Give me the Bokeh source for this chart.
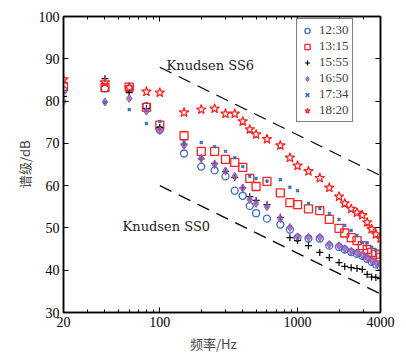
from bokeh.plotting import figure
from bokeh.models import (FixedTicker, LinearAxis, LogAxis, Range1d, Label, Legend, LegendItem,
                          NumeralTickFormatter)
from bokeh.embed import file_html
from bokeh.resources import INLINE

freqs = [20, 40, 60, 80, 100, 150, 200, 250, 300, 350, 400, 450, 500, 600, 750, 880,
         1000, 1200, 1450, 1700, 2000, 2200, 2450, 2700, 2950, 3200, 3450, 3700, 4000]
s1230 = [82.6, 83.0, 83.0, 78.8, 73.2, 67.6, 64.5, 63.6, 62.2, 58.8, 57.6, 55.2, 53.5, 52.2, 50.8,
         49.6, 47.7, 47.5, 47.5, 45.8, 45.5, 44.9, 44.3, 43.9, 43.4, 42.7, 42.0, 41.4, 40.9]
s1315 = [83.4, 83.2, 83.3, 78.5, 74.3, 71.8, 68.1, 68.1, 66.2, 65.5, 64.3, 61.7, 59.8, 61.0, 58.3,
         56.0, 55.5, 54.5, 54.1, 52.0, 49.9, 48.8, 47.7, 47.0, 45.8, 44.9, 44.2, 43.8, 43.1]
s1555 = [81.1, 85.3, 82.0, 78.2, 73.8, 69.8, 66.3, 65.3, 63.3, 61.9, 59.5, 57.4, 56.5, 55.5, 52.5,
         47.7, 47.0, 45.8, 44.2, 43.0, 41.8, 40.9, 40.6, 40.4, 40.2, 39.0, 38.4, 38.3, 38.0]
s1650 = [79.9, 79.8, 80.6, 77.6, 73.0, 69.5, 66.5, 65.0, 63.5, 62.2, 59.4, 56.7, 55.8, 55.0, 52.2,
         50.1, 47.9, 47.8, 47.8, 46.1, 45.8, 45.1, 44.5, 44.1, 43.6, 42.9, 42.3, 41.8, 41.2]
s1734 = [82.2, 79.6, 78.0, 74.7, 75.2, 70.4, 70.2, 69.2, 68.1, 66.6, 64.5, 62.2, 61.7, 61.1, 61.4,
         59.6, 58.8, 55.8, 54.6, 53.4, 52.0, 50.6, 49.4, 48.2, 46.5, 46.5, 45.4, 44.7, 44.2]
s1820 = [85.1, 84.4, 83.2, 82.2, 82.0, 77.3, 78.0, 78.2, 77.0, 77.0, 75.2, 73.3, 72.1, 71.0, 69.5,
         66.6, 64.7, 63.4, 61.8, 59.5, 57.4, 55.8, 54.5, 53.6, 53.0, 51.3, 49.7, 48.5, 47.5]
labels = ["12:30", "13:15", "15:55", "16:50", "17:34", "18:20"]

ss6_freq = [100, 4000]
ss6_level = [88.0, 62.4]
ss0_freq = [100, 4000]
ss0_level = [60.0, 34.4]

x_major = [20, 100, 1000, 4000]
x_minor = [30, 40, 50, 60, 70, 80, 90, 200, 300, 400, 500, 600, 700, 800, 900, 2000, 3000]
y_major = [30, 40, 50, 60, 70, 80, 90, 100]

SERIF = "Liberation Serif"
CJK = "Noto Sans CJK SC"

p = figure(width=406, height=357, x_axis_type="log", output_backend="svg",
           toolbar_location=None, x_range=Range1d(20, 4000), y_range=Range1d(30, 100),
           frame_width=317, frame_height=296,
           min_border_left=63, min_border_right=26, min_border_top=16, min_border_bottom=45)
p.grid.visible = False
p.outline_line_color = "black"
p.outline_line_width = 1.5
p.background_fill_color = "white"

def style_axis(ax, show_labels):
    ax.axis_line_color = "black"
    ax.axis_line_width = 1.5
    ax.major_tick_in = 5
    ax.major_tick_out = 0
    ax.minor_tick_in = 3
    ax.minor_tick_out = 0
    ax.major_tick_line_color = "black"
    ax.minor_tick_line_color = "black"
    ax.major_label_text_font = SERIF
    ax.major_label_text_font_size = "14px"
    ax.major_label_text_color = "black"
    ax.major_label_standoff = 4
    if not show_labels:
        ax.major_label_text_font_size = "1px"
        ax.major_label_text_color = None
        ax.major_label_standoff = 0

xb = p.xaxis[0]
xb.ticker = FixedTicker(ticks=x_major, minor_ticks=x_minor)
xb.formatter = NumeralTickFormatter(format="0")
style_axis(xb, True)
xb.axis_label = "频率/Hz      "
xb.axis_label_text_font = CJK
xb.axis_label_text_font_size = "13px"
xb.axis_label_text_font_style = "normal"
xb.axis_label_standoff = 4

yl = p.yaxis[0]
yl.ticker = FixedTicker(ticks=y_major, minor_ticks=[])
style_axis(yl, True)
yl.axis_label = "谱级/dB"
yl.axis_label_text_font = CJK
yl.axis_label_text_font_size = "13px"
yl.axis_label_text_font_style = "normal"
yl.axis_label_standoff = 2

xt = LogAxis(ticker=FixedTicker(ticks=x_major, minor_ticks=x_minor))
style_axis(xt, False)
p.add_layout(xt, "above")
yr = LinearAxis(ticker=FixedTicker(ticks=y_major, minor_ticks=[]))
style_axis(yr, False)
p.add_layout(yr, "right")

# Knudsen reference lines
p.line(ss6_freq, ss6_level, line_color="black", line_width=1.2, line_dash="13 8")
p.line(ss0_freq, ss0_level, line_color="black", line_width=1.2, line_dash="13 8")
p.add_layout(Label(x=112, y=88.4, text="Knudsen SS6", text_font="DejaVu Serif",
                   text_font_size="13px", text_color="#222222", text_baseline="alphabetic"))
p.add_layout(Label(x=53.7, y=50.3, text="Knudsen SS0", text_font="DejaVu Serif",
                   text_font_size="13px", text_color="#222222", text_baseline="alphabetic"))

BLUE = "#3a6cc4"
RED = "#ff2020"
PURPLE = "#9b59b6"

r1 = p.scatter(freqs, s1230, marker="circle", size=7, fill_color=None, line_color=BLUE, line_width=1.3)
r2 = p.scatter(freqs, s1315, marker="square", size=8, fill_color=None, line_color=RED, line_width=1.3)
r3 = p.scatter(freqs, s1555, marker="cross", size=7, line_color="black", line_width=1.2)
r4 = p.scatter(freqs, s1650, marker="diamond", size=8, fill_color=PURPLE, line_color=PURPLE,
               fill_alpha=0.8, line_width=1.0)
r5 = p.scatter(freqs, s1734, marker="x", size=4, line_color=BLUE, line_width=1.6)
r6 = p.scatter(freqs, s1820, marker="star", size=10, fill_color=RED, fill_alpha=0.08,
               line_color=RED, line_width=1.2)

legend = Legend(items=[LegendItem(label=l, renderers=[r]) for l, r in
                       zip(labels, [r1, r2, r3, r4, r5, r6])],
                location=(233, 190))
legend.margin = 0
legend.padding = 3
legend.spacing = 0
legend.label_height = 13
legend.glyph_height = 13
legend.glyph_width = 14
legend.label_standoff = 5
legend.label_text_font = "serif"
legend.label_text_font_size = "13px"
legend.label_text_baseline = "middle"
legend.border_line_color = "black"
legend.border_line_width = 1.2
legend.background_fill_color = "white"
legend.background_fill_alpha = 1.0
p.add_layout(legend)

open("out.html", "w").write(file_html(p, INLINE))
